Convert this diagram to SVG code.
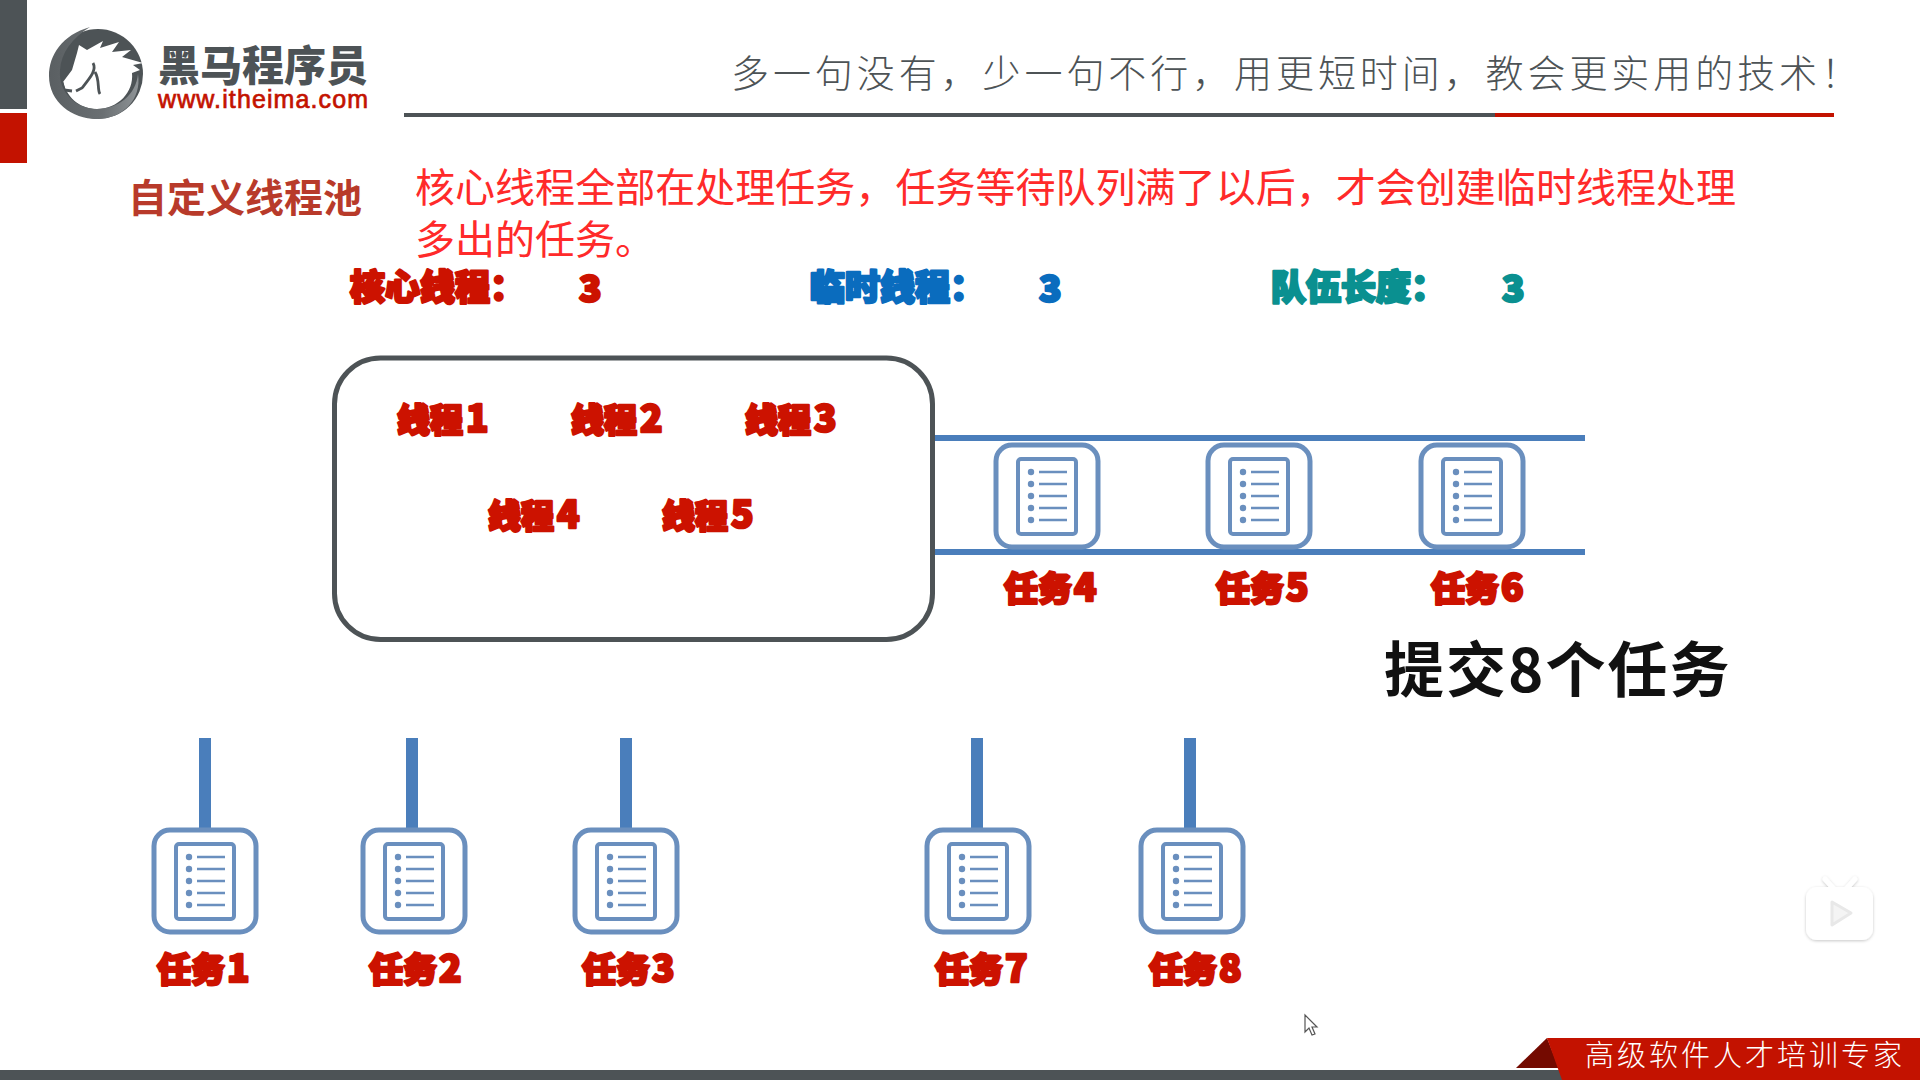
<svg xmlns="http://www.w3.org/2000/svg" width="1920" height="1080" viewBox="0 0 1920 1080">
<style>
.cjk{font-family:"Noto Sans CJK SC","Noto Sans",sans-serif}
.fat{font-family:"Noto Sans CJK SC","Noto Sans",sans-serif;font-weight:900;stroke-width:2.6;stroke-linejoin:round;paint-order:stroke}
.red{fill:#cc1200;stroke:#cc1200}
.task{font-size:34px}
.thr{font-size:33px}
.head{font-size:35px}
.dg{font-size:37px}
.pipe{stroke:#4a7ebb;stroke-width:6;fill:none}
.stem{stroke:#4a7ebb;stroke-width:12;fill:none}
.ic{fill:#fff;stroke:#6a8fbe;stroke-width:5}
.il{stroke:#6a8fbe;stroke-width:2.5}
</style>
<defs>
<g id="doc">
<rect class="ic" x="-51" y="-51" width="102" height="102" rx="16"/>
<rect x="-29" y="-37" width="58" height="75" rx="3" fill="#fff" stroke="#6a8fbe" stroke-width="4"/>
<g fill="#6a8fbe"><circle cx="-16" cy="-24" r="3.2"/><circle cx="-16" cy="-12" r="3.2"/><circle cx="-16" cy="0" r="3.2"/><circle cx="-16" cy="12" r="3.2"/><circle cx="-16" cy="24" r="3.2"/></g>
<g class="il"><path d="M-8-24H20M-8-12H20M-8 0H20M-8 12H20M-8 24H20"/></g>
</g>
<linearGradient id="ring" x1="0" y1="0" x2="1" y2="0"><stop offset="0" stop-color="#5a5f62"/><stop offset=".6" stop-color="#6a6f72"/><stop offset="1" stop-color="#8e9396"/></linearGradient>
<filter id="sh" x="-20%" y="-20%" width="140%" height="140%"><feDropShadow dx="0" dy="1" stdDeviation="1.5" flood-color="#000" flood-opacity=".22"/></filter>
</defs>
<rect width="1920" height="1080" fill="#fff"/>

<g id="frame">
<rect x="0" y="0" width="27" height="109" fill="#4d5356"/>
<rect x="0" y="113" width="27" height="50" fill="#c31200"/>
<rect x="404" y="113" width="1091" height="4" fill="#4d5356"/>
<rect x="1495" y="113" width="339" height="4" fill="#c31200"/>
<rect x="0" y="1070" width="1565" height="10" fill="#4d5356"/>
<polygon points="1516,1068 1547,1038 1559,1068" fill="#740a00"/>
<polygon points="1547,1038 1920,1038 1920,1080 1562,1080" fill="#c31200"/>
<text class="cjk" x="1585" y="1066" font-size="29" fill="#fff" textLength="317" font-weight="300">高级软件人才培训专家</text>
<text class="cjk" x="731" y="87" font-size="38" fill="#4d5356" font-weight="300" textLength="1128">多一句没有&#xFF0C;少一句不行&#xFF0C;用更短时间&#xFF0C;教会更实用的技术&#xFF01;</text>
</g>

<g id="logo">
<circle cx="98" cy="74" r="45" fill="#4d5356"/>
<path d="M63 82L72 70L77 53L79 45L87 50L103 41L100 48L119 42L112 52L131 50L122 57L143 63L133 65L140 70L132 73C134 92 118 109 97 109C82 109 68 100 63 82Z" fill="#fff"/>
<path d="M62 82L64 90L72 91M93 63C97 70 90 78 82 88L76 91M95 72C100 80 97 90 100 94" fill="none" stroke="#4d5356" stroke-width="2.800"/>
<path d="M90 27C62 35 49 55 49 76C49 102 72 119 97 119C122 119 142 100 138 74C136 95 118 109 97 109C76 109 58 92 60 70C61 53 72 38 90 27Z" fill="url(#ring)"/>
<text class="cjk" x="158" y="81" font-size="42" font-weight="900" fill="#4d5356" textLength="210">黑马程序员</text>
<text x="158" y="108" font-family="Liberation Sans,Arial,sans-serif" font-size="25" fill="#c31200" textLength="210" stroke="#c31200" stroke-width=".7">www.itheima.com</text>
</g>

<g id="headings">
<text class="cjk" x="128" y="212" font-size="39" font-weight="700" fill="#b83a2a">自定义线程池</text>
<text class="cjk" x="415" y="202" font-size="40" fill="#ff2a2a" textLength="1321">核心线程全部在处理任务&#xFF0C;任务等待队列满了以后&#xFF0C;才会创建临时线程处理</text>
<text class="cjk" x="415" y="254" font-size="40" fill="#ff2a2a">多出的任务。</text>
<text class="fat head" x="350" y="300" fill="#cc1200" stroke="#cc1200">核心线程&#xFF1A;</text>
<text class="fat dg" x="579" y="302" fill="#cc1200" stroke="#cc1200">3</text>
<text class="fat head" x="810" y="300" fill="#0a6cbe" stroke="#0a6cbe">临时线程&#xFF1A;</text>
<text class="fat dg" x="1039" y="302" fill="#0a6cbe" stroke="#0a6cbe">3</text>
<text class="fat head" x="1271" y="300" fill="#0a9090" stroke="#0a9090">队伍长度&#xFF1A;</text>
<text class="fat dg" x="1502" y="302" fill="#0a9090" stroke="#0a9090">3</text>
<text class="cjk" x="1384" y="692" font-size="60" font-weight="700" fill="#111" letter-spacing="2">提交8个任务</text>
</g>

<g id="connectors">
<path class="pipe" d="M933 438H1585M933 552H1585"/>
<path class="stem" d="M205 738V832M412 738V832M626 738V832M977 738V832M1190 738V832"/>
</g>

<g id="pool">
<rect x="334.500" y="358" width="598" height="281.500" rx="46" fill="#fff" stroke="#4d5356" stroke-width="5"/>
<text class="fat red thr" x="397" y="432">线程<tspan class="dg" dx="3">1</tspan></text>
<text class="fat red thr" x="571" y="432">线程<tspan class="dg" dx="3">2</tspan></text>
<text class="fat red thr" x="745" y="432">线程<tspan class="dg" dx="3">3</tspan></text>
<text class="fat red thr" x="488" y="528">线程<tspan class="dg" dx="3">4</tspan></text>
<text class="fat red thr" x="662" y="528">线程<tspan class="dg" dx="3">5</tspan></text>
</g>

<g id="task4"><use href="#doc" x="1047" y="496"/><text class="fat red task" x="1004" y="601">任务<tspan class="dg" dx="2">4</tspan></text></g>
<g id="task5"><use href="#doc" x="1259" y="496"/><text class="fat red task" x="1216" y="601">任务<tspan class="dg" dx="2">5</tspan></text></g>
<g id="task6"><use href="#doc" x="1472" y="496"/><text class="fat red task" x="1431" y="601">任务<tspan class="dg" dx="2">6</tspan></text></g>
<g id="task1"><use href="#doc" x="205" y="881"/><text class="fat red task" x="157" y="982">任务<tspan class="dg" dx="2">1</tspan></text></g>
<g id="task2"><use href="#doc" x="414" y="881"/><text class="fat red task" x="369" y="982">任务<tspan class="dg" dx="2">2</tspan></text></g>
<g id="task3"><use href="#doc" x="626" y="881"/><text class="fat red task" x="582" y="982">任务<tspan class="dg" dx="2">3</tspan></text></g>
<g id="task7"><use href="#doc" x="978" y="881"/><text class="fat red task" x="935" y="982">任务<tspan class="dg" dx="2">7</tspan></text></g>
<g id="task8"><use href="#doc" x="1192" y="881"/><text class="fat red task" x="1149" y="982">任务<tspan class="dg" dx="2">8</tspan></text></g>

<g id="tv" filter="url(#sh)">
<path d="M1825 879L1833 888M1855 879L1847 888" stroke="#fff" stroke-width="5" stroke-linecap="round"/>
<rect x="1806" y="887" width="67" height="53" rx="11" fill="#fff"/>
<path d="M1832 902L1851 913L1832 925Z" fill="#f4f4f4" stroke="#e8e8e8" stroke-width="3" stroke-linejoin="round"/>
</g>
<path id="cursor" d="M1305 1015V1032L1309 1028L1312 1035L1315 1034L1312 1027H1317Z" fill="#fff" stroke="#555" stroke-width="1.200"/>
</svg>
